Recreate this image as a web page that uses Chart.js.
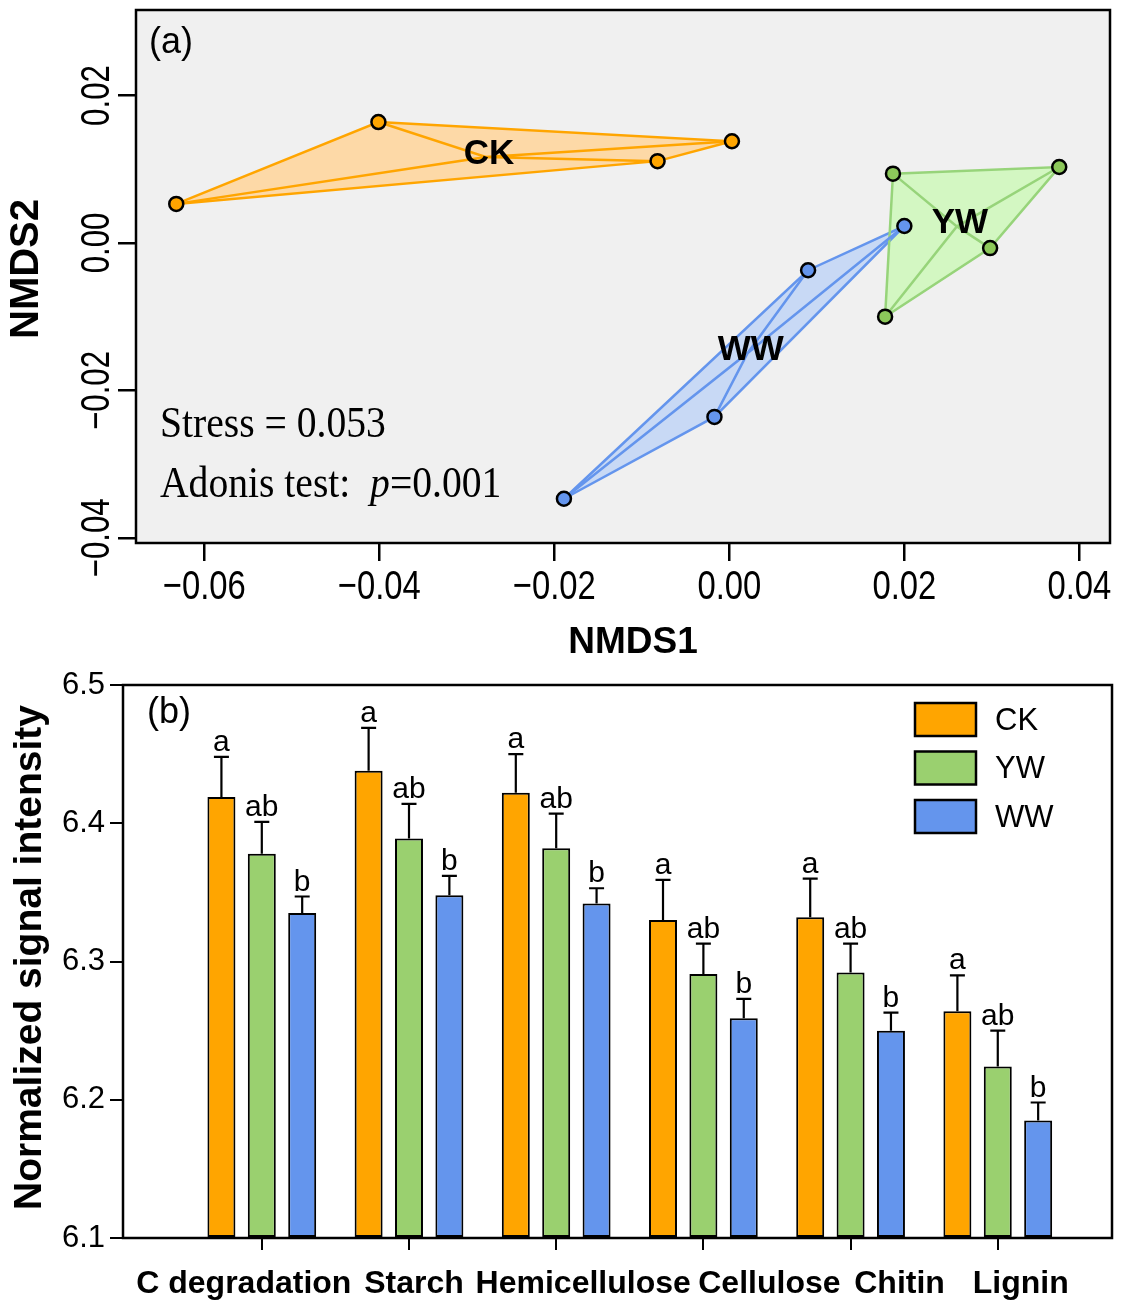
<!DOCTYPE html>
<html>
<head>
<meta charset="utf-8">
<script src="https://cdn.jsdelivr.net/npm/chart.js@4.4.1/dist/chart.umd.min.js"></script>
<style>
  body { margin: 0; background: #fff; }
  canvas { position: absolute; left: 0; }
  #nmds { top: 0; }
  #genes { top: 660px; }
</style>
</head>
<body>
<canvas id="nmds" width="1125" height="660"></canvas>
<canvas id="genes" width="1125" height="643"></canvas>
<script>
// (a) NMDS ordination, 4 samples per treatment
const groups = ['CK', 'YW', 'WW'];
const ckX = [-0.0632, -0.0401, -0.0082, 0.0003];
const ckY = [0.0053, 0.0164, 0.0111, 0.0138];
const ywX = [0.0187, 0.0377, 0.0298, 0.0178];
const ywY = [0.0094, 0.0103, -0.0007, -0.0100];
const wwX = [0.0200, 0.0090, -0.0017, -0.0189];
const wwY = [0.0023, -0.0037, -0.0236, -0.0347];
const nmdsXTicks = [-0.06, -0.04, -0.02, 0, 0.02, 0.04];
const nmdsYTicks = [-0.04, -0.02, 0, 0.02];

// (b) normalized signal intensity of C degradation genes
const categories = ['C degradation', 'Starch', 'Hemicellulose', 'Cellulose', 'Chitin', 'Lignin'];
const ckMean = [6.419, 6.438, 6.422, 6.330, 6.332, 6.264];
const ywMean = [6.378, 6.389, 6.382, 6.291, 6.292, 6.224];
const wwMean = [6.335, 6.348, 6.342, 6.259, 6.250, 6.185];
const ckErr = [0.029, 0.031, 0.028, 0.029, 0.028, 0.026];
const ywErr = [0.023, 0.025, 0.025, 0.022, 0.021, 0.026];
const wwErr = [0.012, 0.014, 0.011, 0.014, 0.013, 0.013];
const ckSig = ['a', 'a', 'a', 'a', 'a', 'a'];
const ywSig = ['ab', 'ab', 'ab', 'ab', 'ab', 'ab'];
const wwSig = ['b', 'b', 'b', 'b', 'b', 'b'];
const barYTicks = [6.1, 6.2, 6.3, 6.4, 6.5];

Chart.defaults.font.family = '"Liberation Sans", Arial, sans-serif';
Chart.defaults.color = '#000';

const SANS = '"Liberation Sans", Arial, sans-serif';
const SERIF = '"Liberation Serif", "Times New Roman", serif';

const pointCol = { CK: '#FFA500', YW: '#8CC85A', WW: '#6495ED' };
const lineCol = { CK: '#FFA500', YW: '#97D47A', WW: '#6495ED' };
const fillCol = { CK: '#FDD9A7', YW: '#D3F7C2', WW: '#C8D9F5' };

function pts(xs, ys) {
    return xs.map((x, i) => ({ x: x, y: ys[i] }));
}

function centroid(p) {
    return {
        x: p.reduce((s, q) => s + q.x, 0) / p.length,
        y: p.reduce((s, q) => s + q.y, 0) / p.length
    };
}

function hull(p) {
    const s = p.slice().sort((a, b) => a.x - b.x || a.y - b.y);
    const cross = (o, a, b) => (a.x - o.x) * (b.y - o.y) - (a.y - o.y) * (b.x - o.x);
    const lower = [], upper = [];
    s.forEach(q => {
        while (lower.length >= 2 && cross(lower[lower.length - 2], lower[lower.length - 1], q) <= 0) lower.pop();
        lower.push(q);
    });
    s.slice().reverse().forEach(q => {
        while (upper.length >= 2 && cross(upper[upper.length - 2], upper[upper.length - 1], q) <= 0) upper.pop();
        upper.push(q);
    });
    lower.pop();
    upper.pop();
    const h = lower.concat(upper);
    h.push(h[0]);
    return h;
}

function spider(p) {
    const c = centroid(p);
    const out = [];
    p.forEach(q => { out.push(c, q); });
    return out;
}

function fmt2(v) {
    return (v < 0 ? '\u2212' : '') + Math.abs(v).toFixed(2);
}

// text squeezed along its own direction (the reference uses a narrow face)
function squeezed(ctx, txt, x, y, sx, rot) {
    ctx.save();
    ctx.translate(x, y);
    if (rot) ctx.rotate(rot);
    ctx.scale(sx, 1);
    ctx.fillText(txt, 0, 0);
    ctx.restore();
}

const groupPts = { CK: pts(ckX, ckY), YW: pts(ywX, ywY), WW: pts(wwX, wwY) };

const nmdsSets = [];
groups.forEach(g => {
    const p = groupPts[g];
    nmdsSets.push({ label: g + ' hull', data: hull(p), showLine: true, pointRadius: 0,
        borderColor: lineCol[g], borderWidth: 2.5, hullFill: fillCol[g], order: 3 });
    nmdsSets.push({ label: g + ' spider', data: spider(p), showLine: true, pointRadius: 0,
        borderColor: lineCol[g], borderWidth: 2.5, order: 2 });
    nmdsSets.push({ label: g, data: p, showLine: false, pointRadius: 7,
        pointBackgroundColor: pointCol[g], pointBorderColor: '#000', pointBorderWidth: 2.5,
        order: 1, group: g });
});

const nmdsDecor = {
    id: 'nmdsDecor',
    beforeDraw(chart) {
        const a = chart.chartArea, ctx = chart.ctx;
        ctx.save();
        ctx.fillStyle = '#F0F0F0';
        ctx.fillRect(a.left, a.top, a.right - a.left, a.bottom - a.top);
        ctx.restore();
    },
    beforeDatasetsDraw(chart) {
        const ctx = chart.ctx;
        ctx.save();
        chart.data.datasets.forEach((ds, i) => {
            if (!ds.hullFill) return;
            const el = chart.getDatasetMeta(i).data;
            ctx.beginPath();
            el.forEach((pt, k) => k ? ctx.lineTo(pt.x, pt.y) : ctx.moveTo(pt.x, pt.y));
            ctx.closePath();
            ctx.fillStyle = ds.hullFill;
            ctx.fill();
        });
        ctx.restore();
    },
    afterDraw(chart) {
        const a = chart.chartArea, ctx = chart.ctx;
        const xs = chart.scales.x, ys = chart.scales.y;
        ctx.save();
        ctx.strokeStyle = '#000';
        ctx.lineWidth = 2.5;
        ctx.strokeRect(a.left, a.top, a.right - a.left, a.bottom - a.top);

        ctx.fillStyle = '#000';
        ctx.textAlign = 'center';
        ctx.textBaseline = 'middle';

        // tick labels
        ctx.font = '41px ' + SANS;
        nmdsXTicks.forEach(v => {
            squeezed(ctx, fmt2(v), xs.getPixelForValue(v), a.bottom + 45, 0.8);
        });
        ctx.font = '40px ' + SANS;
        nmdsYTicks.forEach(v => {
            squeezed(ctx, fmt2(v), 98, ys.getPixelForValue(v), 0.78, -Math.PI / 2);
        });

        // axis titles
        ctx.font = 'bold 37px ' + SANS;
        ctx.fillText('NMDS1', 633, 643);
        ctx.font = 'bold 40px ' + SANS;
        squeezed(ctx, 'NMDS2', 27, 269, 1, -Math.PI / 2);

        // group names at centroids
        ctx.font = 'bold 35px ' + SANS;
        groups.forEach(g => {
            const c = centroid(groupPts[g]);
            ctx.fillText(g, xs.getPixelForValue(c.x) + 3, ys.getPixelForValue(c.y) - 3);
        });

        // panel label and statistics
        ctx.textAlign = 'left';
        ctx.font = '36px ' + SANS;
        ctx.fillText('(a)', a.left + 13, a.top + 33);

        ctx.textBaseline = 'alphabetic';
        const sx = a.left + 24;
        ctx.save();
        ctx.translate(sx, 437);
        ctx.scale(0.9, 1);
        ctx.font = '44px ' + SERIF;
        ctx.fillText('Stress = 0.053', 0, 0);
        ctx.restore();

        ctx.save();
        ctx.translate(sx, 497);
        ctx.scale(0.9, 1);
        ctx.font = '44px ' + SERIF;
        const t = 'Adonis test:  ';
        ctx.fillText(t, 0, 0);
        let w = ctx.measureText(t).width;
        ctx.font = 'italic 44px ' + SERIF;
        ctx.fillText('p', w, 0);
        w += ctx.measureText('p').width;
        ctx.font = '44px ' + SERIF;
        ctx.fillText('=0.001', w, 0);
        ctx.restore();
        ctx.restore();
    }
};

new Chart(document.getElementById('nmds'), {
    type: 'scatter',
    data: { datasets: nmdsSets },
    options: {
        responsive: false,
        animation: false,
        events: [],
        devicePixelRatio: 1,
        layout: { padding: { top: 10, right: 15, left: 0, bottom: 0 } },
        plugins: { legend: { display: false }, tooltip: { enabled: false } },
        scales: {
            x: {
                type: 'linear',
                min: -0.0678,
                max: 0.0435,
                afterBuildTicks: s => { s.ticks = nmdsXTicks.map(v => ({ value: v })); },
                afterFit: s => { s.height = 117; },
                border: { display: false },
                grid: { drawOnChartArea: false, drawTicks: true, tickLength: 18, color: '#000', lineWidth: 2.5 },
                ticks: { display: false }
            },
            y: {
                type: 'linear',
                min: -0.0407,
                max: 0.0316,
                afterBuildTicks: s => { s.ticks = nmdsYTicks.map(v => ({ value: v })); },
                afterFit: s => { s.width = 136; },
                border: { display: false },
                grid: { drawOnChartArea: false, drawTicks: true, tickLength: 18, color: '#000', lineWidth: 2.5 },
                ticks: { display: false }
            }
        }
    },
    plugins: [nmdsDecor]
});

// ---- (b) bars ----
const barColors = ['#FFA500', '#9AD06F', '#6495ED'];
const barSeries = [ckMean, ywMean, wwMean];
const errSeries = [ckErr, ywErr, wwErr];
const sigSeries = [ckSig, ywSig, wwSig];
const labelShift = [-18, 5, 27, 66, 49, 23];

const barDecor = {
    id: 'barDecor',
    afterDatasetsDraw(chart) {
        const ctx = chart.ctx, ys = chart.scales.y;
        ctx.save();
        ctx.strokeStyle = '#000';
        ctx.fillStyle = '#000';
        ctx.lineWidth = 2.2;
        ctx.font = '30px ' + SANS;
        ctx.textAlign = 'center';
        ctx.textBaseline = 'alphabetic';
        chart.data.datasets.forEach((ds, k) => {
            chart.getDatasetMeta(k).data.forEach((bar, i) => {
                const top = ys.getPixelForValue(ds.data[i].y + ds.err[i]);
                ctx.beginPath();
                ctx.moveTo(bar.x, bar.y);
                ctx.lineTo(bar.x, top);
                ctx.moveTo(bar.x - 7.5, top);
                ctx.lineTo(bar.x + 7.5, top);
                ctx.stroke();
                ctx.fillText(ds.sig[i], bar.x, top - 6);
            });
        });
        ctx.restore();
    },
    afterDraw(chart) {
        const a = chart.chartArea, ctx = chart.ctx, xs = chart.scales.x;
        ctx.save();
        ctx.strokeStyle = '#000';
        ctx.lineWidth = 2.5;
        ctx.strokeRect(a.left, a.top, a.right - a.left, a.bottom - a.top);

        ctx.fillStyle = '#000';
        ctx.textBaseline = 'middle';
        ctx.textAlign = 'center';
        ctx.font = 'bold 32px ' + SANS;
        categories.forEach((c, i) => {
            ctx.fillText(c, xs.getPixelForValue(i) + labelShift[i], a.bottom + 46);
        });

        ctx.font = 'bold 39px ' + SANS;
        squeezed(ctx, 'Normalized signal intensity', 30, (a.top + a.bottom) / 2 - 4, 1, -Math.PI / 2);

        ctx.textAlign = 'left';
        ctx.font = '36px ' + SANS;
        ctx.fillText('(b)', a.left + 24, a.top + 28);

        // legend
        ctx.font = '31px ' + SANS;
        chart.data.datasets.forEach((ds, k) => {
            const lx = a.right - 197, ly = a.top + 18 + k * 48.5;
            ctx.fillStyle = ds.backgroundColor;
            ctx.fillRect(lx, ly, 61, 33);
            ctx.strokeRect(lx, ly, 61, 33);
            ctx.fillStyle = '#000';
            ctx.fillText(ds.label, lx + 80, ly + 18);
        });
        ctx.restore();
    }
};

new Chart(document.getElementById('genes'), {
    type: 'bar',
    data: {
        datasets: groups.map((g, k) => ({
            label: g,
            data: barSeries[k].map((v, i) => ({ x: i, y: v })),
            backgroundColor: barColors[k],
            borderColor: '#000',
            borderWidth: 2,
            borderSkipped: false,
            base: barYTicks[0],
            categoryPercentage: 0.823,
            barPercentage: 0.693,
            err: errSeries[k],
            sig: sigSeries[k]
        }))
    },
    options: {
        responsive: false,
        animation: false,
        events: [],
        devicePixelRatio: 1,
        layout: { padding: { top: 25, right: 13, left: 0, bottom: 0 } },
        plugins: { legend: { display: false }, tooltip: { enabled: false } },
        scales: {
            x: {
                type: 'linear',
                min: -0.943,
                max: 5.776,
                offset: false,
                afterBuildTicks: s => { s.ticks = categories.map((c, i) => ({ value: i })); },
                afterFit: s => { s.height = 65; },
                border: { display: false },
                grid: { offset: false, drawOnChartArea: false, drawTicks: true, tickLength: 12, color: '#000', lineWidth: 2 },
                ticks: { display: false }
            },
            y: {
                type: 'linear',
                min: barYTicks[0],
                max: barYTicks[barYTicks.length - 1],
                afterBuildTicks: s => { s.ticks = barYTicks.map(v => ({ value: v })); },
                afterFit: s => { s.width = 123; },
                border: { display: false },
                grid: { drawOnChartArea: false, drawTicks: true, tickLength: 13, color: '#000', lineWidth: 2 },
                ticks: { padding: 5, font: { size: 31 }, color: '#000', callback: v => v.toFixed(1) }
            }
        }
    },
    plugins: [barDecor]
});
</script>
</body>
</html>
